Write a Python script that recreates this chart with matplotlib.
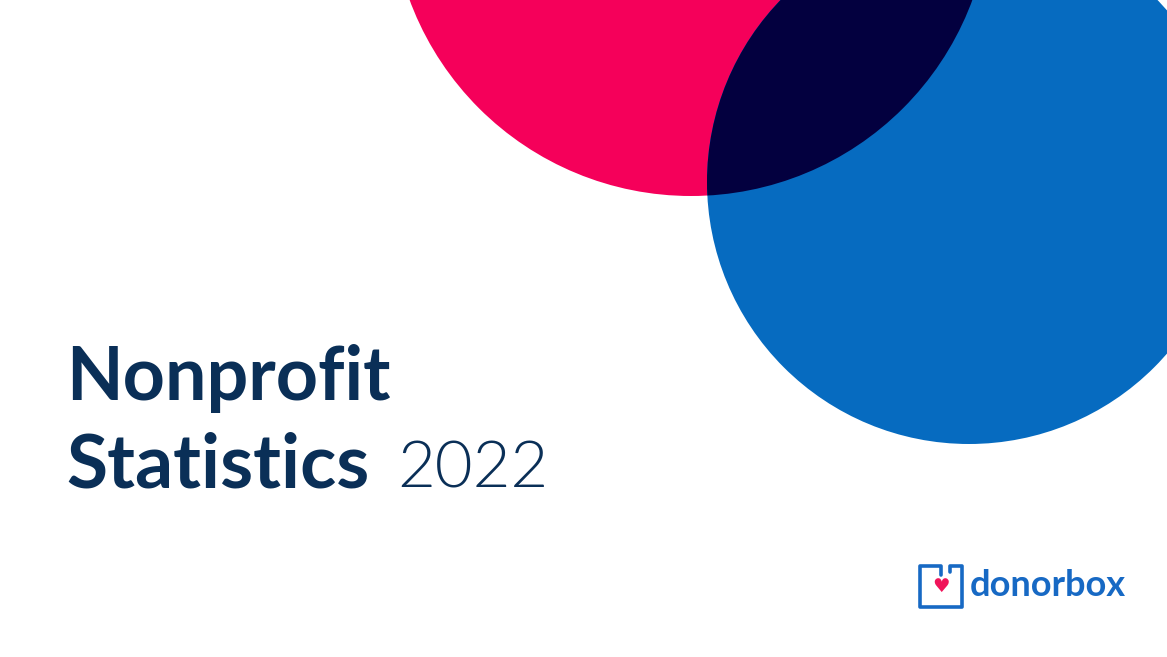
import matplotlib
matplotlib.use("Agg")
import matplotlib.pyplot as plt
from matplotlib.patches import Circle

# --- content ---
title_bold = ["Nonprofit", "Statistics"]
title_year = "2022"
brand = "donorbox"

# --- colours ---
pink = "#F5005A"
navy_overlap = "#03003F"
blue = "#066BC0"
text_navy = "#0A2F57"
logo_blue = "#1769C4"

W, H = 1167, 657
fig = plt.figure(figsize=(W / 100, H / 100), dpi=100)
ax = fig.add_axes([0, 0, 1, 1])
ax.set_xlim(0, W)
ax.set_ylim(H, 0)
ax.axis("off")

# circles (pixel coordinates, y downward)
pink_c, pink_r = (691, -104), 300
blue_c, blue_r = (969, 182), 262

ax.add_patch(Circle(pink_c, pink_r, color=pink, lw=0, zorder=1))
ax.add_patch(Circle(blue_c, blue_r, color=blue, lw=0, zorder=1))
# dark overlap = pink circle clipped to blue one
overlap = Circle(pink_c, pink_r, color=navy_overlap, lw=0, zorder=2)
ax.add_patch(overlap)
overlap.set_clip_path(Circle(blue_c, blue_r, transform=ax.transData))

# title
ax.text(66, 400, title_bold[0], fontsize=53, fontweight="bold", family="Lato",
        color=text_navy, va="baseline", ha="left")
ax.text(66, 488, title_bold[1], fontsize=54, fontweight="bold", family="Lato",
        color=text_navy, va="baseline", ha="left")
ax.text(397, 488, title_year, fontsize=47, fontweight=300, family="Lato",
        color=text_navy, va="baseline", ha="left")

# logo: two brackets + heart
lw = 2.6
ax.plot([941, 941, 920, 920, 962, 962, 950, 950],
        [575, 566, 566, 607, 607, 566, 566, 572],
        color=logo_blue, lw=lw, solid_joinstyle="round", solid_capstyle="round")
ax.text(941, 587, "\u2665", fontsize=14, color="#F0145A", ha="center", va="center",
        family="DejaVu Sans")
ax.text(970, 596, brand, fontsize=26, fontweight="bold", family="Lato",
        color=logo_blue, va="baseline", ha="left")

fig.savefig("out.png", dpi=100, facecolor="white")
